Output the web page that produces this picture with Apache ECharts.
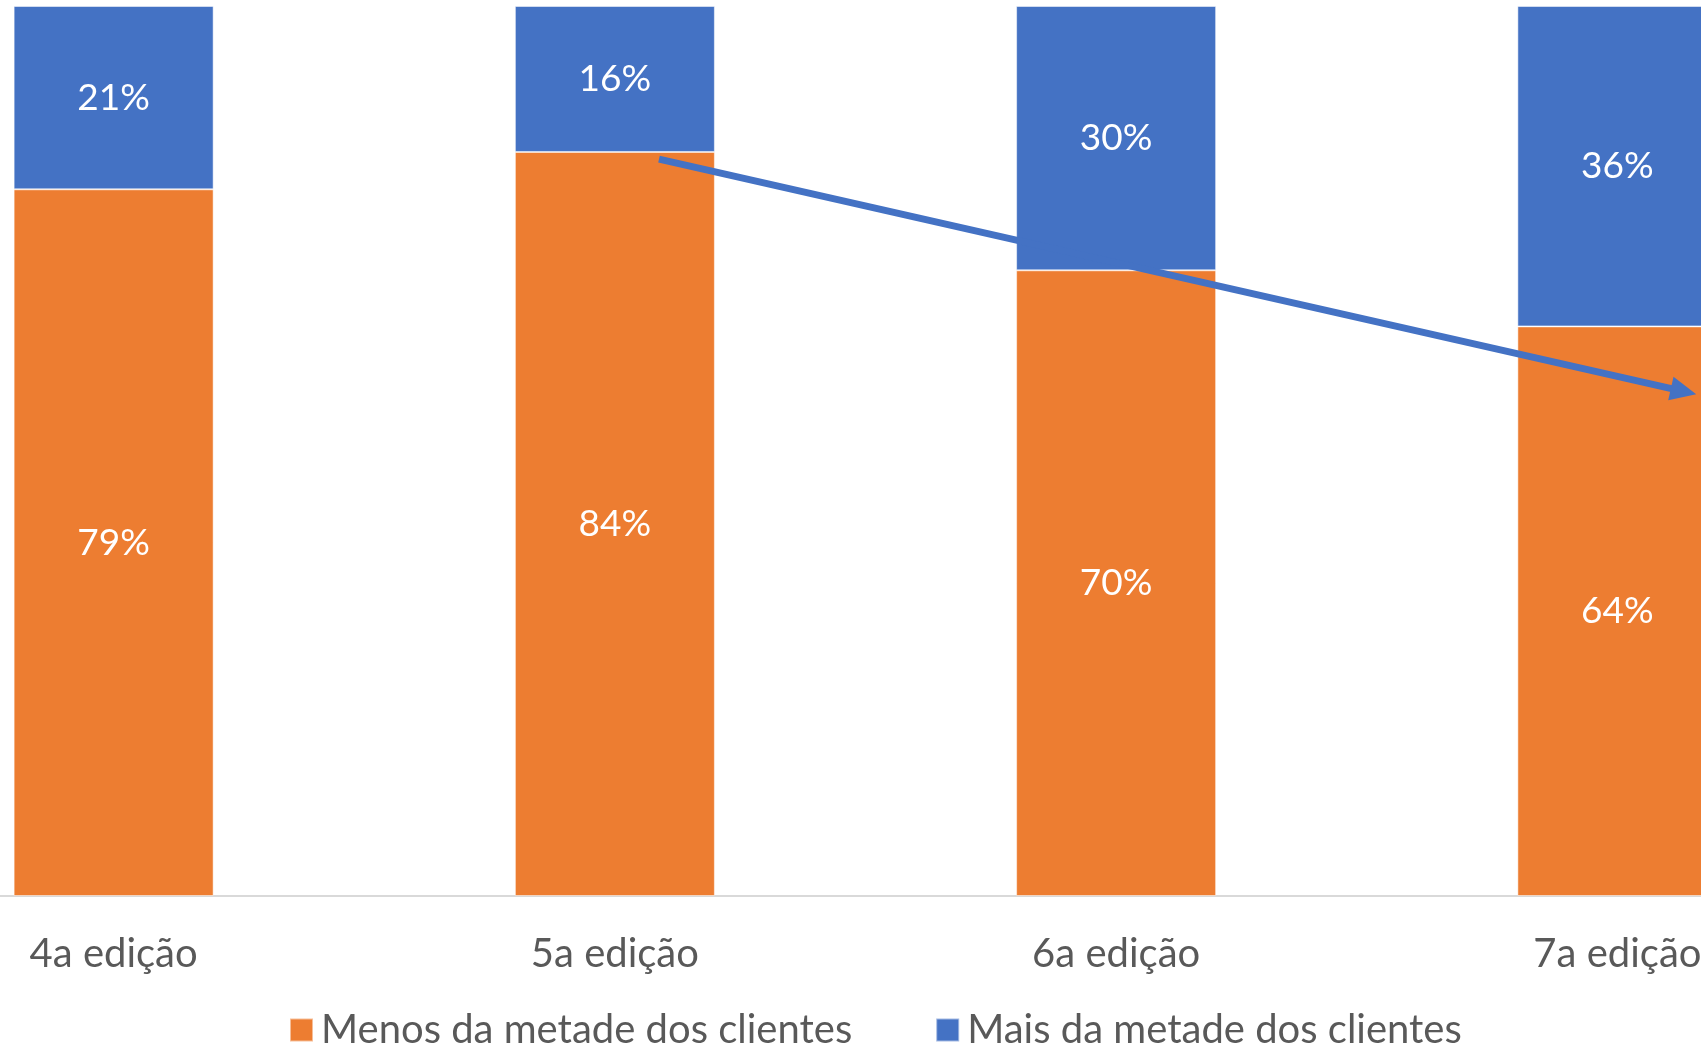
<!DOCTYPE html>
<html>
<head>
<meta charset="utf-8">
<script src="https://cdn.jsdelivr.net/npm/echarts@6/dist/echarts.min.js"></script>
<style>
  html, body { margin: 0; padding: 0; background: #fff; }
  #main { width: 1701px; height: 1043px; }
</style>
</head>
<body>
<div id="main"></div>
<script>
var categories = ['4a edição', '5a edição', '6a edição', '7a edição'];
var menosData = [79.4, 83.6, 70.3, 64.0];   // Menos da metade dos clientes
var maisData = [20.6, 16.4, 29.7, 36.0];    // Mais da metade dos clientes
// trend arrow, in [category index, percent]
var arrowStart = [1.088, 82.8];
var arrowEnd = [3.132, 56.7];

var chart = echarts.init(document.getElementById('main'));

var labelStyle = {
    show: true,
    position: 'inside',
    color: '#fff',
    fontFamily: 'Lato',
    fontSize: 37,
    formatter: function (p) { return Math.round(p.value) + '%'; }
};

var option = {
    animation: false,
    legend: {
        data: ['Menos da metade dos clientes', 'Mais da metade dos clientes'],
        left: 284,
        top: 1005,
        itemWidth: 23,
        itemHeight: 23,
        itemGap: 83,
        icon: 'rect',
        textStyle: { color: '#595959', fontFamily: 'Lato', fontSize: 40, padding: [0, 0, 0, 3] }
    },
    grid: { left: -137, width: 2005, top: 6, bottom: 147, outerBoundsMode: 'none' },
    xAxis: [{
        type: 'category',
        data: categories,
        axisLine: { lineStyle: { color: '#D9D9D9', width: 2 } },
        axisTick: { show: false },
        axisLabel: { color: '#595959', fontFamily: 'Lato', fontSize: 40, margin: 38 }
    }, {
        type: 'value',
        min: -0.5,
        max: 3.5,
        show: false
    }],
    yAxis: {
        type: 'value',
        min: 0,
        max: 100,
        show: false,
        splitLine: { show: false }
    },
    series: [{
        name: 'Menos da metade dos clientes',
        type: 'bar',
        stack: 'total',
        barWidth: 200,
        data: menosData,
        itemStyle: { color: '#ED7D31', borderColor: 'rgba(255,255,255,0.5)', borderWidth: 1 },
        label: labelStyle
    }, {
        name: 'Mais da metade dos clientes',
        type: 'bar',
        stack: 'total',
        barWidth: 200,
        data: maisData,
        itemStyle: { color: '#4472C4', borderColor: 'rgba(255,255,255,0.5)', borderWidth: 1 },
        label: labelStyle
    }, {
        name: 'seta',
        type: 'line',
        xAxisIndex: 1,
        data: [],
        markLine: {
            silent: true,
            symbol: ['none', 'triangle'],
            symbolSize: [24, 26],
            label: { show: false },
            lineStyle: { color: '#4472C4', width: 7, type: 'solid' },
            data: [[{ coord: arrowStart }, { coord: arrowEnd }]]
        }
    }]
};

chart.setOption(option);
window.onresize = chart.resize;
</script>
</body>
</html>
